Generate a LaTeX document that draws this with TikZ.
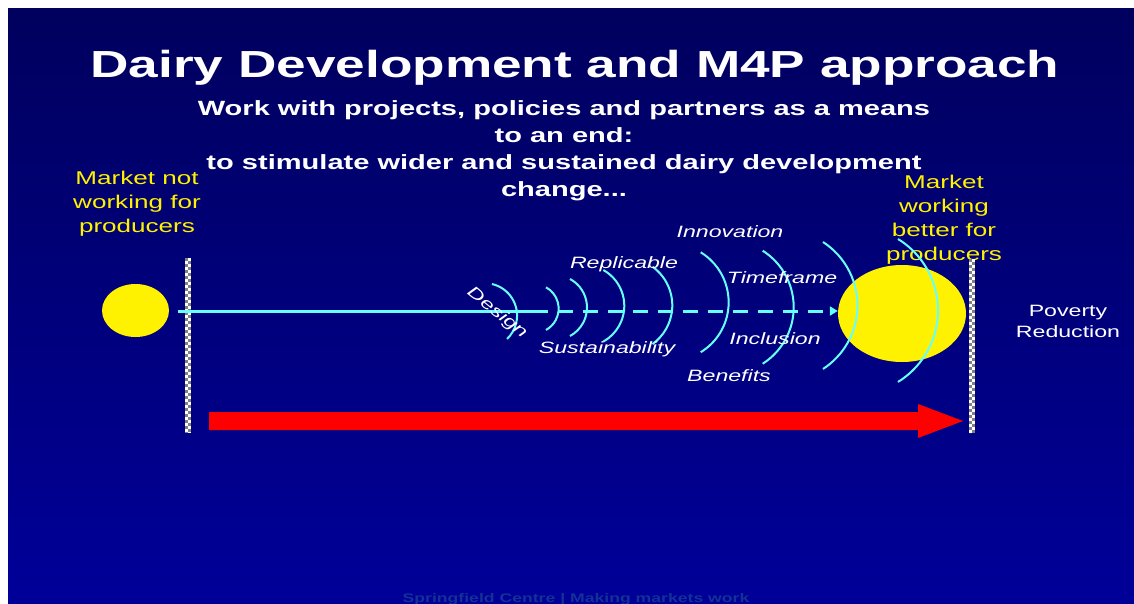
\documentclass[tikz,border=0pt]{standalone}
\usepackage{fontspec}
\setmainfont{Liberation Sans}[FakeStretch=1.41]
\usetikzlibrary{shapes.geometric,arrows.meta,positioning}

\definecolor{slidetop}{RGB}{0,0,94}
\definecolor{slidebot}{RGB}{0,0,153}
\definecolor{waveblue}{RGB}{102,255,255}
\definecolor{footerblue}{RGB}{20,50,150}

\tikzset{
  market/.style={ellipse, fill=yellow, inner sep=0pt},
  yellowtext/.style={text=yellow, align=center, inner sep=0pt,
    font=\fontsize{18.5}{23.7}\selectfont},
  factor/.style={text=white, inner sep=0pt,
    font=\fontsize{16.4}{20}\selectfont\itshape},
  flow/.style={draw=waveblue, line width=3pt},
  ripple/.style={draw=waveblue, line width=2pt},
}

% checkered boundary post: x, top, bottom
\newcommand{\hatchbar}[3]{%
  \fill[white] (#1-3,#2) rectangle (#1+3,#3);
  \draw[gray, line width=3pt, dash pattern=on 3pt off 3pt] (#1-1.5,#2) -- (#1-1.5,#3);
  \draw[gray, line width=3pt, dash pattern=on 3pt off 3pt, dash phase=3pt] (#1+1.5,#2) -- (#1+1.5,#3);
}

\begin{document}
\begin{tikzpicture}[x=1pt, y=-1pt]
    % page and slide background
    \useasboundingbox (0,0) rectangle (1134,603);
    \fill[white] (0,0) rectangle (1134,603);
    \shade[top color=slidetop, bottom color=slidebot] (8,8) rectangle (1134,603);

    % headings
    \node[text=white, inner sep=0pt, anchor=base, font=\fontsize{37.7}{45}\selectfont\bfseries]
        (title) at (575,77) {Dairy Development and M4P approach};
    \node[text=white, inner sep=0pt, anchor=base, align=center,
        font=\fontsize{20.6}{26.7}\selectfont\bfseries] (subtitle) at (564,196)
        {Work with projects, policies and partners as a means\\to an end:\\
         to stimulate wider and sustained dairy development\\change...};

    % start and end states
    \node[market, minimum width=67pt, minimum height=53pt] (before) at (135.5,310.5) {};
    \node[market, minimum width=128pt, minimum height=97pt] (after) at (902,313.5) {};
    \node[yellowtext, anchor=base] (beforetext) at (137,232) {Market not\\working for\\producers};
    \node[yellowtext, anchor=base] (aftertext) at (944,260) {Market\\working\\better for\\producers};
    \node[text=white, inner sep=0pt, anchor=base, align=center,
        font=\fontsize{16.4}{21}\selectfont] (poverty) at (1068,337) {Poverty\\Reduction};

    % boundary posts
    \hatchbar{188}{258}{433}
    \hatchbar{971.5}{259}{433}

    % intervention path
    \coordinate (split) at (533,311);
    \draw[flow] ([xshift=9pt]before.east |- split) -- (split);
    \draw[flow, dash pattern=on 15pt off 10pt, -{Triangle[length=8pt,width=9pt]}] (split) -- (after.west |- split);

    % ripples spreading along the path
    \foreach \xa/\ya/\r/\sa/\ea in {
        492/284/32.4/-76.9/46.3, 546/287.3/24.3/-61.3/61.3,
        570/279/32.4/-61.6/61.6, 603.3/270/41/-60.8/60.8,
        652.5/266.7/47.7/-54.2/54.2, 700.7/252.3/58.6/-58.5/58.5,
        762.7/250.7/67/-57.5/57.5, 823/242/75.7/-57/57,
        898/239/83.9/-58.4/58.4}
      \draw[ripple] (\xa,\ya) arc[start angle=\sa, end angle=\ea, radius=\r];

    % factors
    \node[factor, rotate=-39] (design) at (497,313) {Design};
    \node[factor] (replicable) at (624,264) {Replicable};
    \node[factor] (sustain) at (607,349) {Sustainability};
    \node[factor] (innovation) at (730,232) {Innovation};
    \node[factor] (timeframe) at (782,278) {Timeframe};
    \node[factor] (inclusion) at (775,339) {Inclusion};
    \node[factor] (benefits) at (729,376) {Benefits};

    % progress arrow
    \fill[red] (209,412) -- (918,412) -- (918,404) -- (963,421) -- (918,438)
        -- (918,430) -- (209,430) -- cycle;

    % footer
    \node[text=footerblue, inner sep=0pt, anchor=base, font=\fontsize{12.5}{15}\selectfont\bfseries]
        (footer) at (576,602) {Springfield Centre | Making markets work};
\end{tikzpicture}
\end{document}
